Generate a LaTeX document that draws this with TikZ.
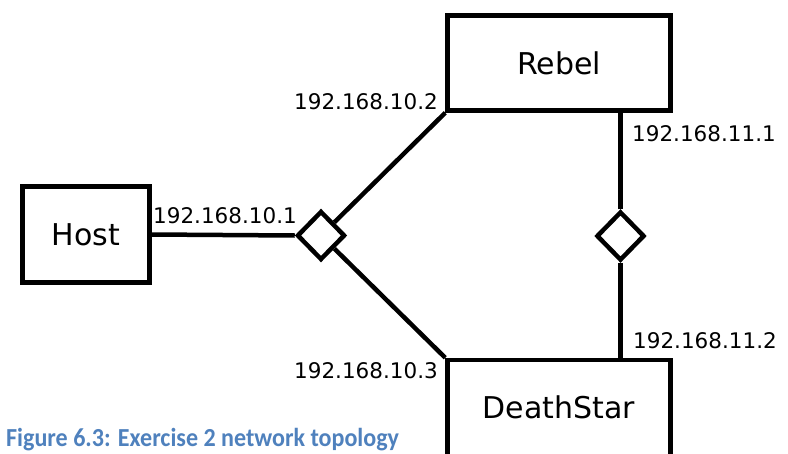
\documentclass[tikz,border=0pt]{standalone}
\usepackage{fontspec}
\setmainfont{DejaVu Sans}
\newfontfamily\captionfont{Carlito}
\usetikzlibrary{shapes.geometric, positioning}
\definecolor{captionblue}{RGB}{79,129,189}
\tikzset{
    box/.style={draw, line width=4.5pt, inner sep=0pt, font=\fontsize{30}{36}\selectfont}, % the hosts
    hub/.style={draw, diamond, line width=4.5pt, inner sep=0pt, minimum width=48pt, minimum height=49pt}, % switches
    ip/.style={inner sep=0pt, font=\fontsize{21.5}{26}\selectfont}, % interface addresses
    link/.style={line width=4.5pt},
}
\begin{document}
\begin{tikzpicture}[x=1pt, y=-1pt]
    \useasboundingbox (0,0) rectangle (788,453);
    \clip (0,0) rectangle (788,453);
    % machines
    \node[box, minimum width=127pt, minimum height=96pt] (host) at (86,234.5) {Host};
    \node[box, minimum width=223pt, minimum height=95pt] (rebel) at (559,63) {Rebel};
    \node[box, minimum width=223pt, minimum height=110pt, text depth=16pt] (deathstar) at (559,415) {DeathStar}; % runs off the bottom
    % switches
    \node[hub] (hubA) at (321,235.5) {};
    \node[hub] (hubB) at (620.5,236) {};
    % wires
    \draw[link] (host.east) -- (hubA.west);
    \draw[link] (hubA) -- (rebel.south west);
    \draw[link] (hubA) -- (deathstar.north west);
    \draw[link] (hubB.north) -- (hubB |- rebel.south);
    \draw[link] (hubB.south) -- (hubB |- deathstar.north);
    % addresses
    \node[ip, anchor=west] (ipA1) at (153,216) {192.168.10.1};
    \node[ip, anchor=east] (ipA2) at (438,102) {192.168.10.2};
    \node[ip, anchor=east] (ipA3) at (438,371) {192.168.10.3};
    \node[ip, anchor=west] (ipB1) at (632,134) {192.168.11.1};
    \node[ip, anchor=west] (ipB2) at (633,341) {192.168.11.2};
    % caption
    \node[anchor=base west, inner sep=0pt, text=captionblue, font=\captionfont\bfseries\fontsize{26}{30}\selectfont] (caption) at (6,446.5) {\scalebox{0.925}[1]{Figure 6.3: Exercise 2 network topology}};
\end{tikzpicture}
\end{document}
